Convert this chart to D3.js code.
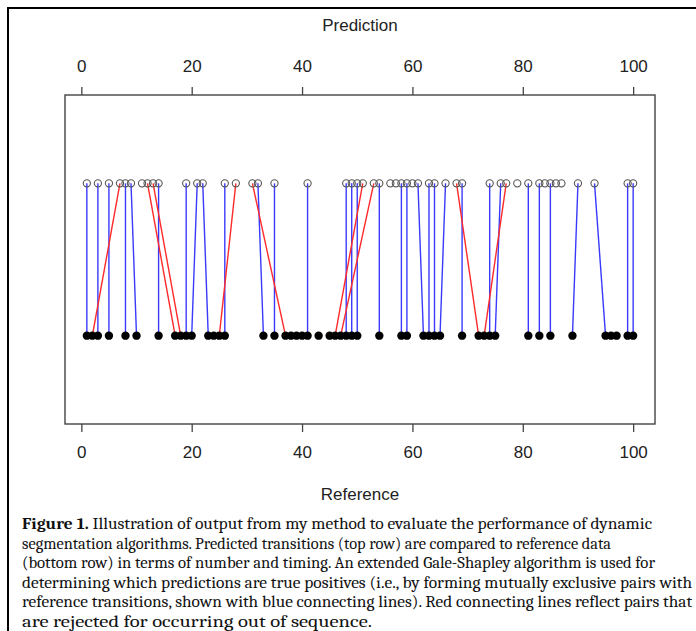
<!DOCTYPE html>
<html>
<head>
<meta charset="utf-8">
<script src="https://cdn.jsdelivr.net/npm/d3@7"></script>
<style>
  html, body { margin: 0; padding: 0; background: #fff; }
  svg { display: block; }
</style>
</head>
<body>
<svg id="chart" width="696" height="631"></svg>
<script>
// Predicted transitions (top row)
const predictions = [1,3,5,7,8,9,11,12,13,14,19,21,22,26,28,31,32,35,41,48,49,50,51,53,54,56,57,58,59,60,61,63,64,66,68,69,74,76,77,79,81,83,84,85,86,87,90,93,99,100];
// Reference transitions (bottom row)
const references = [1,2,3,5,8,10,14,17,18,19,20,23,24,25,26,33,35,37,38,39,40,41,43,45,46,47,48,49,50,54,58,59,62,63,64,65,69,72,73,74,75,81,83,85,89,95,96,97,99,100];
// Accepted pairs [prediction, reference] (blue)
const acceptedPred = [1,3,5,8,9,14,19,21,22,26,32,35,41,48,49,50,54,58,59,61,63,64,66,69,74,76,81,83,85,90,93,99,100];
const acceptedRef  = [1,3,5,8,10,14,19,20,23,26,33,35,41,48,49,50,54,58,59,62,63,64,65,69,74,75,81,83,85,89,95,99,100];
// Rejected pairs [prediction, reference] (red)
const rejectedPred = [7,12,13,28,31,51,53,68,77];
const rejectedRef  = [2,17,18,25,37,46,47,72,73];
const tickValues = [0,20,40,60,80,100];
const axisTitleTop = "Prediction";
const axisTitleBottom = "Reference";
const captionLines = [
  ["Figure 1.", " Illustration of output from my method to evaluate the performance of dynamic"],
  ["", "segmentation algorithms. Predicted transitions (top row) are compared to reference data"],
  ["", "(bottom row) in terms of number and timing. An extended Gale-Shapley algorithm is used for"],
  ["", "determining which predictions are true positives (i.e., by forming mutually exclusive pairs with"],
  ["", "reference transitions, shown with blue connecting lines). Red connecting lines reflect pairs that"],
  ["", "are rejected for occurring out of sequence."]
];
const captionWidths = [630, 589, 633, 670, 670, 350];

const svg = d3.select("#chart");

// outer frame (top-left border)
svg.append("path").attr("d", "M8,640 L8,8 L710,8")
  .attr("fill", "none").attr("stroke", "#000").attr("stroke-width", 2);

const box = {left: 65, right: 655, top: 95, bottom: 424};
// R-style 4% extension of the data range 1..100
const xmin = 1, xmax = 100, ext = (xmax - xmin) * 0.04;
const x = d3.scaleLinear().domain([xmin - ext, xmax + ext]).range([box.left, box.right]);
const y = d3.scaleLinear().domain([0.5 - 0.08, 2.5 + 0.08]).range([box.bottom, box.top]);

const font = "'Liberation Sans', Arial, sans-serif";

// axes
const axTop = svg.append("g").attr("transform", `translate(0,${box.top})`)
  .call(d3.axisTop(x).tickValues(tickValues).tickSize(8).tickPadding(15));
const axBot = svg.append("g").attr("transform", `translate(0,${box.bottom})`)
  .call(d3.axisBottom(x).tickValues(tickValues).tickSize(8).tickPadding(14));
[axTop, axBot].forEach(g => {
  g.select(".domain").remove();
  g.selectAll(".tick line").attr("stroke", "#444").attr("stroke-width", 1.3);
  g.selectAll(".tick text").attr("font-family", font).attr("font-size", 17).attr("fill", "#222");
});

// box
svg.append("rect").attr("x", box.left).attr("y", box.top)
  .attr("width", box.right - box.left).attr("height", box.bottom - box.top)
  .attr("fill", "none").attr("stroke", "#444").attr("stroke-width", 1.4);

// axis titles
svg.append("text").attr("x", (box.left + box.right) / 2).attr("y", 31)
  .attr("text-anchor", "middle").attr("font-family", font).attr("font-size", 17)
  .attr("fill", "#222").text(axisTitleTop);
svg.append("text").attr("x", (box.left + box.right) / 2).attr("y", 500)
  .attr("text-anchor", "middle").attr("font-family", font).attr("font-size", 17)
  .attr("fill", "#222").text(axisTitleBottom);

// connecting lines
const blue = acceptedPred.map((p, i) => ({p, r: acceptedRef[i]}));
const red = rejectedPred.map((p, i) => ({p, r: rejectedRef[i]}));
svg.append("g").selectAll("line").data(blue).join("line")
  .attr("x1", d => x(d.p)).attr("y1", y(2))
  .attr("x2", d => x(d.r)).attr("y2", y(1))
  .attr("stroke", "#3a3aff").attr("stroke-width", 1.4);
svg.append("g").selectAll("line").data(red).join("line")
  .attr("x1", d => x(d.p)).attr("y1", y(2))
  .attr("x2", d => x(d.r)).attr("y2", y(1))
  .attr("stroke", "#ff2a2a").attr("stroke-width", 1.4);

// points
svg.append("g").selectAll("circle").data(predictions).join("circle")
  .attr("cx", d => x(d)).attr("cy", y(2)).attr("r", 3.6)
  .attr("fill", "none").attr("stroke", "#555").attr("stroke-width", 1.1);
svg.append("g").selectAll("circle").data(references).join("circle")
  .attr("cx", d => x(d)).attr("cy", y(1)).attr("r", 4.2)
  .attr("fill", "#000");

// caption
const serif = "Cambria, 'Liberation Serif', 'DejaVu Serif', serif";
captionLines.forEach((ln, i) => {
  const t = svg.append("text").attr("x", 22).attr("y", 529 + i * 19.6)
    .attr("font-family", serif).attr("font-size", 17).attr("fill", "#111")
    .attr("textLength", captionWidths[i]).attr("lengthAdjust", "spacingAndGlyphs");
  if (ln[0]) t.append("tspan").attr("font-weight", "bold").text(ln[0]);
  t.append("tspan").text(ln[1]);
});
</script>
</body>
</html>
